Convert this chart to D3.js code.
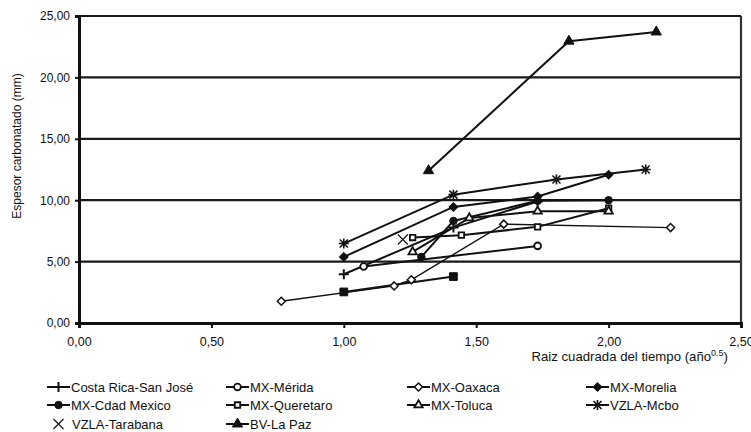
<!DOCTYPE html>
<html>
<head>
<meta charset="utf-8">
<script src="https://cdn.jsdelivr.net/npm/d3@7"></script>
<style>
  body { margin: 0; background: #fff; }
  text { font-family: "Liberation Sans", Arial, sans-serif; fill: #111; }
</style>
</head>
<body>
<svg id="chart"></svg>
<script>
// series values (x = raiz cuadrada del tiempo, y = espesor mm)
const costaRicaX = [1.00, 1.414, 1.732];
const costaRicaY = [3.97, 7.77, 9.90];
const meridaX = [1.075, 1.732];
const meridaY = [4.60, 6.28];
const oaxacaX = [0.764, 1.19, 1.255, 1.604, 2.234];
const oaxacaY = [1.77, 3.02, 3.52, 8.05, 7.77];
const moreliaX = [1.00, 1.414, 1.732, 2.00];
const moreliaY = [5.38, 9.45, 10.30, 12.07];
const cdadMexicoX = [1.293, 1.414, 1.732, 2.00];
const cdadMexicoY = [5.38, 8.31, 9.95, 10.00];
const queretaroX = [1.26, 1.444, 1.732, 2.00];
const queretaroY = [6.96, 7.15, 7.83, 9.35];
const tolucaX = [1.26, 1.474, 1.732, 2.00];
const tolucaY = [5.79, 8.55, 9.10, 9.10];
const mcboX = [1.00, 1.414, 1.803, 2.14];
const mcboY = [6.47, 10.45, 11.69, 12.50];
const tarabanaX = [1.223];
const tarabanaY = [6.80];
const laPazX = [1.32, 1.85, 2.18];
const laPazY = [12.40, 22.95, 23.70];
// series drawn with filled squares, not named in the legend
const sinNombreX = [1.00, 1.414];
const sinNombreY = [2.53, 3.78];

const xTicks = [0, 0.5, 1, 1.5, 2, 2.5];
const yTicks = [0, 5, 10, 15, 20, 25];

const series = [
  { name: "Costa Rica-San José", xs: costaRicaX, ys: costaRicaY, mark: "plus" },
  { name: "MX-Mérida", xs: meridaX, ys: meridaY, mark: "circleOpen" },
  { name: "MX-Oaxaca", xs: oaxacaX, ys: oaxacaY, mark: "diamondOpen", thin: true },
  { name: "MX-Morelia", xs: moreliaX, ys: moreliaY, mark: "diamondFilled" },
  { name: "MX-Cdad Mexico", xs: cdadMexicoX, ys: cdadMexicoY, mark: "circleFilled" },
  { name: "MX-Queretaro", xs: queretaroX, ys: queretaroY, mark: "squareOpen" },
  { name: "MX-Toluca", xs: tolucaX, ys: tolucaY, mark: "triangleOpen" },
  { name: "VZLA-Mcbo", xs: mcboX, ys: mcboY, mark: "asterisk" },
  { name: "VZLA-Tarabana", xs: tarabanaX, ys: tarabanaY, mark: "cross", noLine: true },
  { name: "BV-La Paz", xs: laPazX, ys: laPazY, mark: "triangleFilled" },
  { name: "", xs: sinNombreX, ys: sinNombreY, mark: "squareFilled" }
];

const W = 751, H = 432;
const margin = { top: 16, right: 10, bottom: 109, left: 79 };
const width = W - margin.left - margin.right;
const height = H - margin.top - margin.bottom;

const svg = d3.select("#chart").attr("width", W).attr("height", H);
const g = svg.append("g").attr("transform", `translate(${margin.left},${margin.top})`);

const x = d3.scaleLinear().domain([0, 2.5]).range([0, width]);
const y = d3.scaleLinear().domain([0, 25]).range([height, 0]);
const fmt = v => d3.format(".2f")(v).replace(".", ",");

// gridlines
g.selectAll(".grid")
  .data(yTicks.slice(1))
  .enter().append("line")
  .attr("x1", 0).attr("x2", width)
  .attr("y1", d => y(d)).attr("y2", d => y(d))
  .attr("stroke", "#1a1a1a").attr("stroke-width", 2.2);

g.append("line")
  .attr("x1", width).attr("x2", width).attr("y1", 0).attr("y2", height)
  .attr("stroke", "#333").attr("stroke-width", 2.2);

const xAxis = g.append("g")
  .attr("transform", `translate(0,${height})`)
  .call(d3.axisBottom(x).tickValues(xTicks).tickFormat(fmt).tickSize(5).tickPadding(9));
const yAxis = g.append("g")
  .call(d3.axisLeft(y).tickValues(yTicks).tickFormat(fmt).tickSize(4).tickPadding(5));

[xAxis, yAxis].forEach(a => {
  a.select(".domain").attr("stroke", "#111").attr("stroke-width", 3);
  a.selectAll(".tick line").attr("stroke", "#111").attr("stroke-width", 2);
  a.selectAll("text").attr("fill", "#111")
    .attr("font-family", "Liberation Sans, Arial, sans-serif");
});
xAxis.selectAll("text").attr("font-size", 12.5);
yAxis.selectAll("text").attr("font-size", 12);

function marker(sel, type) {
  const s = sel;
  const ink = "#111";
  if (type === "plus") {
    s.append("path").attr("d", "M-5,0H5M0,-5V5").attr("stroke", ink).attr("stroke-width", 2).attr("fill", "none");
  } else if (type === "cross") {
    s.append("path").attr("d", "M-5,-5L5,5M-5,5L5,-5").attr("stroke", ink).attr("stroke-width", 1.2).attr("fill", "none");
  } else if (type === "asterisk") {
    s.append("path").attr("d", "M-5,0H5M0,-5V5M-4,-4L4,4M-4,4L4,-4").attr("stroke", ink).attr("stroke-width", 1.6).attr("fill", "none");
  } else if (type === "diamondOpen" || type === "diamondFilled") {
    s.append("path").attr("d", "M0,-4L4,0L0,4L-4,0Z")
      .attr("fill", type === "diamondFilled" ? ink : "#fff")
      .attr("stroke", ink).attr("stroke-width", 1.5);
  } else {
    const map = {
      circleOpen: [d3.symbolCircle, 36, false],
      circleFilled: [d3.symbolCircle, 44, true],
      squareOpen: [d3.symbolSquare, 30, false],
      squareFilled: [d3.symbolSquare, 60, true],
      triangleOpen: [d3.symbolTriangle, 30, false],
      triangleFilled: [d3.symbolTriangle, 46, true]
    };
    const [sym, size, filled] = map[type];
    s.append("path").attr("d", d3.symbol(sym, size)())
      .attr("fill", filled ? ink : "#fff")
      .attr("stroke", ink).attr("stroke-width", filled ? 1 : 1.8);
  }
}

const line = d3.line().x(d => x(d[0])).y(d => y(d[1]));

series.forEach(s => {
  const pts = s.xs.map((v, i) => [v, s.ys[i]]);
  if (!s.noLine) {
    g.append("path").datum(pts).attr("d", line)
      .attr("fill", "none").attr("stroke", "#111")
      .attr("stroke-width", s.thin ? 1.4 : 2);
  }
});
series.forEach(s => {
  const pts = s.xs.map((v, i) => [v, s.ys[i]]);
  pts.forEach(p => {
    const m = g.append("g").attr("transform", `translate(${x(p[0])},${y(p[1])})`);
    marker(m, s.mark);
  });
});

// axis titles
svg.append("text")
  .attr("transform", "translate(21,146) rotate(-90)")
  .attr("text-anchor", "middle").attr("font-size", 12)
  .text("Espesor carbonatado (mm)");

const xt = svg.append("text")
  .attr("x", 728).attr("y", 361).attr("text-anchor", "end").attr("font-size", 13.2);
xt.append("tspan").text("Raiz cuadrada del tiempo (año");
xt.append("tspan").attr("font-size", 9).attr("dy", -5).text("0.5");
xt.append("tspan").attr("dy", 5).text(")");

// legend
const legendItems = series.filter(s => s.name !== "");
const colX = [47, 226, 407, 586];
const rowY = [387, 405, 424];
const lg = svg.append("g");
legendItems.forEach((s, i) => {
  const lx = colX[i % 4], ly = rowY[Math.floor(i / 4)];
  const item = lg.append("g").attr("transform", `translate(${lx},${ly})`);
  if (!s.noLine) {
    item.append("line").attr("x1", 0).attr("x2", 23).attr("y1", 0).attr("y2", 0)
      .attr("stroke", "#111").attr("stroke-width", 2);
  }
  marker(item.append("g").attr("transform", "translate(11.5,0)"), s.mark);
  item.append("text").attr("x", s.noLine ? 25 : 24).attr("y", 4.5).attr("font-size", 13)
    .text(s.name);
});
</script>
</body>
</html>
